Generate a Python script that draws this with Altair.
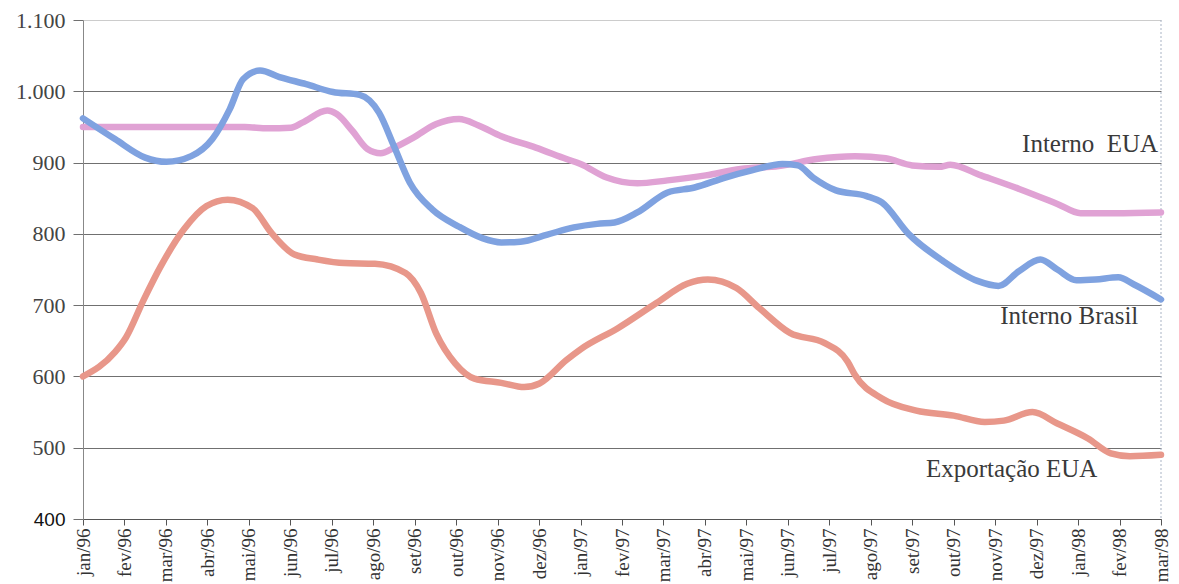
import json
import altair as alt
import pandas as pd

months = ["jan/96", "fev/96", "mar/96", "abr/96", "mai/96", "jun/96", "jul/96", "ago/96",
          "set/96", "out/96", "nov/96", "dez/96", "jan/97", "fev/97", "mar/97", "abr/97",
          "mai/97", "jun/97", "jul/97", "ago/97", "set/97", "out/97", "nov/97", "dez/97",
          "jan/98", "fev/98", "mar/98"]

# positions in months since jan/96 (fractional)
brasil_m = [0, 0.77, 1.5, 2.01, 2.61, 3.12, 3.54, 3.86, 4.27, 4.74, 5.38, 6.03, 6.67, 7.14, 7.5,
            7.88, 8.43, 9.07, 9.63, 10.09, 10.55, 11.2, 11.84, 12.4, 12.82, 13.37, 14.1, 14.75,
            15.49, 16.13, 16.87, 17.24, 17.61, 18.16, 18.9, 19.27, 19.91, 20.74, 21.57, 22.08,
            22.58, 23.09, 23.5, 23.96, 24.42, 24.97, 25.35, 26]
brasil_v = [962, 933, 907, 901, 909, 933, 975, 1017, 1029, 1020, 1010, 999, 995, 970, 923,
            872, 834, 810, 794, 788, 789, 799, 809, 814, 816, 830, 858, 865,
            879, 889, 898, 896, 879, 861, 853, 844, 800, 762, 734, 727,
            748, 764, 750, 735, 736, 739, 729, 708]

eua_m = [0, 1, 2, 3, 3.9, 4.46, 5.01, 5.29, 5.89, 6.12, 6.49, 6.86, 7.18, 7.51, 7.97, 8.52,
         9.07, 9.54, 10.09, 10.92, 11.66, 12.0, 12.63, 13.37, 14.1, 15.02, 15.86, 16.78, 17.7,
         18.62, 19.36, 20.0, 20.65, 20.92, 21.66, 22.58, 23.5, 24.06, 24.89, 26]
eua_v = [950, 950, 950, 950, 950, 948, 949, 956, 973, 968, 945, 919, 913, 921, 935, 954,
         961, 952, 937, 921, 905, 898, 879, 871, 875, 882, 891, 895, 905,
         909, 906, 896, 894, 897, 882, 863, 842, 829, 829, 830]

exp_m = [0, 0.77, 1.04, 1.46, 1.87, 2.43, 2.98, 3.49, 4.09, 4.55, 5.1, 5.66, 6.3, 7.04, 7.78,
         8.15, 8.52, 8.98, 9.44, 10.09, 10.64, 11.01, 11.66, 12.0, 12.91, 13.83, 14.57, 15.07,
         15.76, 16.31, 17.05, 17.88, 18.44, 18.62, 19.27, 20.1, 21.0, 21.75, 22.21, 22.9, 23.5,
         24.24, 24.79, 25.25, 26]
exp_v = [600, 634, 655, 707, 754, 806, 839, 848, 836, 801, 771, 764, 759, 758, 745,
         717, 660, 618, 597, 591, 585, 590, 623, 638, 668, 703, 730, 736,
         724, 696, 661, 647, 621, 602, 569, 552, 545, 536, 538, 550, 534,
         513, 492, 488, 490]

label_text = ["Interno\u00a0 EUA", "Interno Brasil", "Exportação EUA"]
label_m = [22.65, 22.12, 20.33]
label_v = [915, 673, 459]

y_ticks = [400, 500, 600, 700, 800, 900, 1000, 1100]

df_b = pd.DataFrame({"m": brasil_m, "v": brasil_v})
df_e = pd.DataFrame({"m": eua_m, "v": eua_v})
df_x = pd.DataFrame({"m": exp_m, "v": exp_v})
df_l = pd.DataFrame({"m": label_m, "v": label_v, "t": label_text})

month_expr = json.dumps(months) + "[datum.value]"

x_scale = alt.Scale(domain=[0, 26], nice=False, zero=False)
y_scale = alt.Scale(domain=[400, 1100], nice=False, zero=False)

x_axis = alt.Axis(
    values=list(range(27)), labelExpr=month_expr, labelAngle=-90, labelFont="Liberation Serif",
    labelFontSize=19, labelColor="#333333", grid=False, domainColor="#555555", tickColor="#555555",
    tickSize=6, labelPadding=3, title=None, labelOverlap=False, labelFlush=False)

y_axis = alt.Axis(
    values=y_ticks,
    labelExpr="datum.value >= 1000 ? replace(format(datum.value, ','), ',', '.') : format(datum.value, 'd')",
    labelFont={"condition": {"test": "datum.value == 400", "value": "Liberation Sans"}, "value": "Liberation Serif"},
    labelFontSize={"condition": {"test": "datum.value == 400", "value": 19}, "value": 22},
    labelColor={"condition": {"test": "datum.value == 400", "value": "#111111"}, "value": "#444444"},
    grid=True,
    gridColor={"condition": {"test": "datum.value == 1100", "value": "#cccccc"}, "value": "#707070"},
    gridWidth=1,
    domainColor="#888888", tickColor="#707070", tickSize=10, labelPadding=8, title=None,
    labelFlush=False)

def line(df, color):
    return alt.Chart(df).mark_line(color=color, strokeWidth=6.5, interpolate="monotone",
                                   strokeCap="round", strokeJoin="round").encode(
        x=alt.X("m:Q", scale=x_scale, axis=x_axis),
        y=alt.Y("v:Q", scale=y_scale, axis=y_axis))

border = alt.Chart(pd.DataFrame({"m": [26]})).mark_rule(
    color="#a9b3c4", strokeDash=[2, 2], strokeWidth=1).encode(
    x=alt.X("m:Q", scale=x_scale, axis=x_axis))

labels = alt.Chart(df_l).mark_text(
    font="Liberation Serif", fontSize=25, color="#3a3a3a", align="left", baseline="alphabetic").encode(
    x=alt.X("m:Q", scale=x_scale, axis=x_axis),
    y=alt.Y("v:Q", scale=y_scale, axis=y_axis),
    text="t:N")

chart = alt.layer(
    border,
    line(df_e, "#e0a2d4"),
    line(df_x, "#e8978a"),
    line(df_b, "#7fa2e0"),
    labels,
).properties(
    width=1078, height=499,
    autosize=alt.AutoSizeParams(type="none"),
    padding={"left": 83, "top": 20, "right": 18, "bottom": 65},
    background="white",
).configure_view(stroke=None)

chart.save("out.html", embed_options={"renderer": "svg", "actions": False})
